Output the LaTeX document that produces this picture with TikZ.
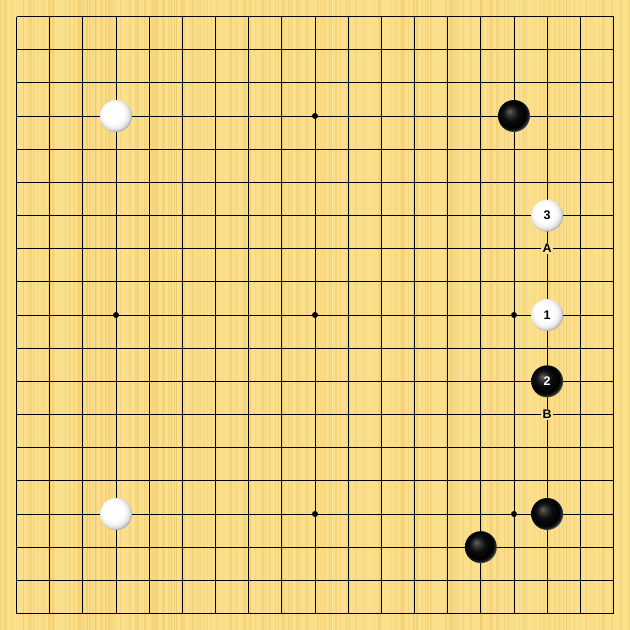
\documentclass[tikz,border=0pt]{standalone}
\usepackage{fontspec}
\setmainfont{Liberation Sans}
\definecolor{board}{RGB}{250,223,140}
\definecolor{grain}{RGB}{240,197,100}
\pgfdeclareradialshading{whitestone}{\pgfpoint{-7.5bp}{7.5bp}}{color(0bp)=(white); color(15bp)=(white); color(20bp)=(white!96!black); color(24bp)=(black!13); color(28bp)=(black!38); color(40bp)=(black!45)}
\pgfdeclareradialshading{blackstone}{\pgfpoint{-7.5bp}{7.5bp}}{color(0bp)=(black!60); color(6bp)=(black!80); color(12.5bp)=(black!95); color(22bp)=(black); color(25.5bp)=(black!85); color(28bp)=(black!50); color(40bp)=(black!45)}
\tikzset{
  gridline/.style={line width=1pt, black},
  starpt/.style={circle, fill=black, minimum size=6pt, inner sep=0pt},
  wstone/.style={circle, minimum size=32pt, inner sep=0pt, shade, shading=whitestone, font=\fontsize{12.5}{12.5}\selectfont\bfseries, text=black},
  bstone/.style={circle, minimum size=32pt, inner sep=0pt, shade, shading=blackstone, font=\fontsize{12.5}{12.5}\selectfont\bfseries, text=white},
  mark label/.style={fill=board, inner sep=1.5pt, font=\fontsize{12.5}{12.5}\selectfont\bfseries, text=black}
}
\begin{document}
\begin{tikzpicture}[x=33.1667pt, y=-33.1667pt]
\useasboundingbox (-0.4975,-0.4975) rectangle (18.4975,18.4975);
\fill[board] (-0.4975,-0.4975) rectangle (18.4975,18.4975);
\pgfmathsetseed{7}
\foreach \i in {1,...,240}{
  \pgfmathsetmacro\xx{-0.5+19*rnd}
  \pgfmathsetmacro\ww{0.3+1.4*rnd}
  \pgfmathsetmacro\oo{0.15+0.35*rnd}
  \draw[grain, line width=\ww pt, opacity=\oo] (\xx,-0.4975) -- (\xx,18.4975);
}
\foreach \k in {0,...,18}{
  \draw[gridline] (\k,0) -- (\k,18);
  \draw[gridline] (0,\k) -- (18,\k);
}
\foreach \a in {3,9,15}{
  \foreach \b in {3,9,15}{
    \node[starpt] (star-\a-\b) at (\a,\b) {};
  }
}
\node[wstone] (w1) at (3,3) {};
\node[bstone] (b1) at (15,3) {};
\node[wstone] (w3) at (16,6) {3};
\node[mark label] (lA) at (16,7) {A};
\node[wstone] (w2) at (16,9) {1};
\node[bstone] (b2) at (16,11) {2};
\node[mark label] (lB) at (16,12) {B};
\node[wstone] (w4) at (3,15) {};
\node[bstone] (b3) at (16,15) {};
\node[bstone] (b4) at (14,16) {};
\end{tikzpicture}
\end{document}
